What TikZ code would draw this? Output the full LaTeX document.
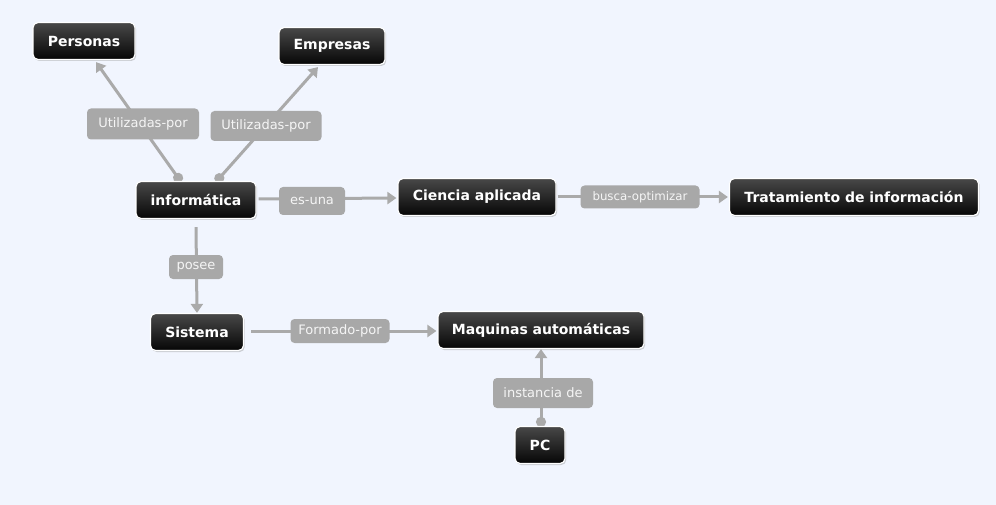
\documentclass[tikz,border=0pt]{standalone}
\usepackage{fontspec}
\setmainfont{DejaVu Sans}
\usetikzlibrary{arrows.meta,shadows}
\pgfdeclarelayer{bgl}
\pgfdeclarelayer{edgel}
\pgfsetlayers{bgl,edgel,main}
\definecolor{bgc}{RGB}{241,245,254}
\definecolor{lnc}{RGB}{170,170,170}
\definecolor{lbc}{RGB}{168,168,168}
\definecolor{topc}{RGB}{72,72,72}
\definecolor{botc}{RGB}{6,6,6}
\begin{document}
\begin{tikzpicture}[x=1pt,y=-1pt,
  concept/.style={draw=white, line width=1.2pt, rounded corners=5pt,
    top color=topc, bottom color=botc, text=white,
    font=\fontsize{14}{16}\selectfont\bfseries,
    minimum height=37pt, inner sep=0pt,
    drop shadow={shadow xshift=1.2pt, shadow yshift=-1.5pt, opacity=0.35}},
  lbl/.style={fill=lbc, rounded corners=4pt, text=white!96!black,
    font=\fontsize{13}{15}\selectfont, inner sep=0pt},
  conn/.style={draw=lnc, line width=3pt},
  tipa/.style={-{Triangle[length=9pt,width=12pt]}},
  dota/.style={{Circle[length=10pt]}-{Triangle[length=9pt,width=12pt]}}]
\useasboundingbox (0,0) rectangle (996,505);
\begin{pgfonlayer}{bgl}
  \fill[bgc] (0,0) rectangle (996,505);
\end{pgfonlayer}

% concepts
\node[concept, minimum width=102pt] (per) at (84,41) {Personas};
\node[concept, minimum width=106pt] (emp) at (332,46) {Empresas};
\node[concept, minimum width=120pt] (inf) at (196,200) {informática};
\node[concept, minimum width=158pt] (cie) at (477,197) {Ciencia aplicada};
\node[concept, minimum width=249pt] (tra) at (854,197) {Tratamiento de información};
\node[concept, minimum width=93pt] (sis) at (197,332) {Sistema};
\node[concept, minimum width=206pt] (maq) at (541,330) {Maquinas automáticas};
\node[concept, minimum width=50pt] (pc) at (540,445) {PC};

% connectors
\begin{pgfonlayer}{edgel}
  \draw[conn, dota] ([xshift=-15pt,yshift=-1pt]inf.north) -- ([xshift=12pt,yshift=-2pt]per.south);
  \draw[conn, dota] ([xshift=20pt,yshift=-1pt]inf.north) -- ([xshift=-14pt,yshift=-2pt]emp.south);
  \draw[conn, tipa] ([xshift=2pt,yshift=1pt]inf.east) -- ([xshift=-1pt,yshift=-1pt]cie.west);
  \draw[conn, tipa] ([xshift=1pt]cie.east) -- ([xshift=-1pt]tra.west);
  \draw[conn, tipa] ([yshift=-8pt]inf.south) -- (sis.north);
  \draw[conn, tipa] ([xshift=7pt,yshift=1pt]sis.east) -- ([xshift=-1pt,yshift=-1pt]maq.west);
  \draw[conn, dota] ([xshift=1pt,yshift=-1pt]pc.north) -- (maq.south);
\end{pgfonlayer}

% link labels
\node[lbl, minimum width=112pt, minimum height=31pt] (l1) at (143,124) {Utilizadas-por};
\node[lbl, minimum width=111pt, minimum height=30pt] (l2) at (266,126) {Utilizadas-por};
\node[lbl, minimum width=66pt, minimum height=28pt] (l3) at (312,201) {es-una};
\node[lbl, minimum width=119pt, minimum height=23pt, font=\fontsize{11.8}{14}\selectfont] (l4) at (640,197) {busca-optimizar};
\node[lbl, minimum width=54pt, minimum height=24pt] (l5) at (196,267) {posee};
\node[lbl, minimum width=99pt, minimum height=24pt] (l6) at (340,331) {Formado-por};
\node[lbl, minimum width=100pt, minimum height=30pt] (l7) at (543,393) {instancia de};
\end{tikzpicture}
\end{document}
